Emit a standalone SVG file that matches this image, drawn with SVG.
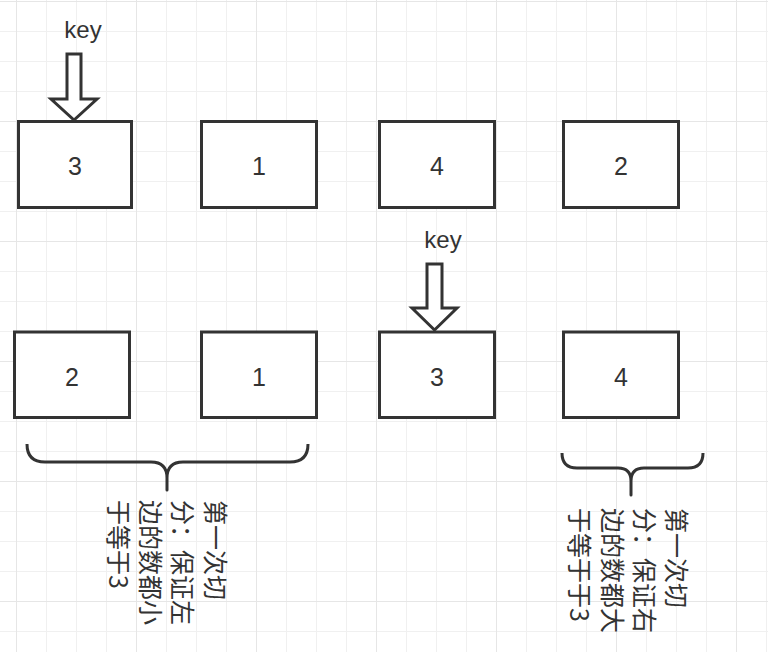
<svg xmlns="http://www.w3.org/2000/svg" width="768" height="652" viewBox="0 0 768 652">
<defs>
<pattern id="minor" width="30" height="30" patternUnits="userSpaceOnUse" x="16" y="1">
<path d="M0,0.5 H30 M0.5,0 V30" fill="none" stroke="#f0f0f0" stroke-width="1"/>
</pattern>
<pattern id="major" width="120" height="120" patternUnits="userSpaceOnUse" x="16" y="1">
<path d="M0,0.5 H120 M0.5,0 V120" fill="none" stroke="#e6e6e6" stroke-width="1"/>
</pattern>
</defs>
<style>
.box{fill:#fff;stroke:#333;stroke-width:3}
.num{font-family:"Liberation Sans",Arial,sans-serif;font-size:25px;fill:#333;text-anchor:middle}
.key{font-family:"Liberation Sans",Arial,sans-serif;font-size:24px;fill:#333;text-anchor:middle}
.arrow{fill:#fff;stroke:#333;stroke-width:3;stroke-linejoin:miter}
.brace{fill:none;stroke:#333;stroke-width:3;stroke-linejoin:round}
.note{font-family:"Noto Sans CJK SC","Noto Sans",sans-serif;font-size:25px;fill:#333}
</style>
<rect width="768" height="652" fill="#fff"/>
<rect width="768" height="652" fill="url(#minor)"/>
<rect width="768" height="652" fill="url(#major)"/>

<g id="connectors">
<polygon class="arrow" points="67,54 81,54 81,99 97,99 74,120 51,99 67,99"/>
<polygon class="arrow" points="427,264 442,264 442,308 457,308 434.5,330 412,308 427,308"/>
<path class="brace" d="M27,444 Q27,462 45,462 L151,462 Q167,462 167,478 L167,490 L167,478 Q167,462 183,462 L290,462 Q308,462 308,444"/>
<path class="brace" d="M562,453 Q562,468 577,468 L618,468 Q631,468 631,481 L631,495 L631,481 Q631,468 644,468 L688,468 Q703,468 703,453"/>
</g>

<g id="key1"><text class="key" x="83" y="38">key</text></g>
<g id="key2"><text class="key" x="443" y="248">key</text></g>

<g id="r1n1"><rect class="box" x="18.5" y="121.5" width="113" height="86"/><text class="num" x="75" y="175">3</text></g>
<g id="r1n2"><rect class="box" x="201.5" y="121.5" width="115" height="86"/><text class="num" x="259" y="175">1</text></g>
<g id="r1n3"><rect class="box" x="379.5" y="121.5" width="115" height="86"/><text class="num" x="437" y="175">4</text></g>
<g id="r1n4"><rect class="box" x="563.5" y="121.5" width="115" height="86"/><text class="num" x="621" y="175">2</text></g>

<g id="r2n1"><rect class="box" x="14.5" y="332" width="115" height="85.5"/><text class="num" x="72" y="386">2</text></g>
<g id="r2n2"><rect class="box" x="201.5" y="332" width="115" height="85.5"/><text class="num" x="259" y="386">1</text></g>
<g id="r2n3"><rect class="box" x="379.5" y="332" width="115" height="85.5"/><text class="num" x="437" y="386">3</text></g>
<g id="r2n4"><rect class="box" x="563.5" y="332" width="115" height="85.5"/><text class="num" x="621" y="386">4</text></g>

<g id="note-left">
<text class="note" transform="translate(205.5,500) rotate(90)"><tspan x="0" y="0">第一次切</tspan><tspan x="0" dy="32.3">分：保证左</tspan><tspan x="0" dy="32.3">边的数都小</tspan><tspan x="0" dy="32.3">于等于3</tspan></text>
</g>
<g id="note-right">
<text class="note" transform="translate(667,508) rotate(90)"><tspan x="0" y="0">第一次切</tspan><tspan x="0" dy="32.2">分：保证右</tspan><tspan x="0" dy="32.2">边的数都大</tspan><tspan x="0" dy="32.2">于等于于3</tspan></text>
</g>
</svg>
